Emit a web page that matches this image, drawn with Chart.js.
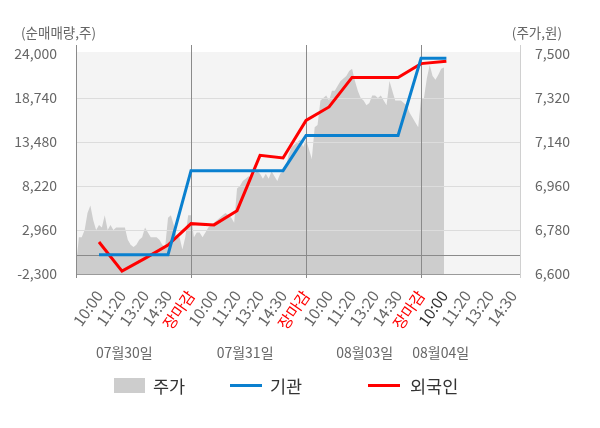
<!DOCTYPE html>
<html><head><meta charset="utf-8">
<script src="https://cdn.jsdelivr.net/npm/chart.js@4.4.1/dist/chart.umd.min.js"></script>
<style>html,body{margin:0;padding:0;background:#fff;}#wrap{width:600px;height:428px;position:relative;}</style>
</head><body><div id="wrap"><canvas id="c" width="600" height="428"></canvas></div>
<script>
const FONT = "'Noto Sans CJK KR','Noto Sans',sans-serif";
const timeLabels = ['10:00','11:20','13:20','14:30','장마감','10:00','11:20','13:20','14:30','장마감','10:00','11:20','13:20','14:30','장마감','10:00','11:20','13:20','14:30'];
const dayLabels = ['07월30일','07월31일','08월03일','08월04일'];
const dayLabelPos = [2.1, 7.35, 12.55, 15.85];
const leftTicks = [-2300, 2960, 8220, 13480, 18740, 24000];
const rightTicks = [6600, 6780, 6960, 7140, 7320, 7500];
const legendNames = ['주가', '기관', '외국인'];

const flowX = [1,2,3,4,5,6,7,8,9,10,11,12,13,14,15,16.1];
const institution = [0,0,0,0,10050,10050,10050,10050,10050,14270,14270,14270,14270,14270,23480,23480];
const foreign = [1530,-1950,-430,1150,3720,3570,5270,11880,11570,16060,17670,21200,21200,21200,22850,23130];

const priceDay1 = [6630,6750,6750,6780,6850,6880,6820,6780,6800,6790,6840,6780,6800,6780,6790,6790,6790,6790,6740,6720,6710,6720,6740,6750,6790,6770,6750,6750,6750,6740,6720,6710,6830,6840,6800,6750,6750,6700,6750,6840];
const priceDay2 = [6840,6750,6770,6770,6750,6770,6790,6800,6810,6820,6830,6840,6850,6840,6830,6810,6950,6960,6980,6990,7000,6990,7010,7020,7010,6990,7010,6990,7020,7000,6980,7010,7020,7040,7090,7120,7130,7140,7150,7120];
const priceDay3 = [7150,7110,7070,7200,7210,7310,7320,7330,7310,7350,7350,7370,7390,7400,7410,7430,7440,7390,7350,7320,7310,7290,7300,7330,7330,7320,7330,7310,7290,7390,7350,7310,7310,7310,7300,7290,7260,7240,7220,7200];
const priceDay4 = [7320,7320,7400,7455,7410,7395,7415,7440,7445];

const SAMPLES_PER_DAY = 40, DAY_SPAN = 5;
const pricePts = [];
[priceDay1, priceDay2, priceDay3, priceDay4].forEach((arr, d) => {
  arr.forEach((v, i) => pricePts.push({x: d * DAY_SPAN + i * DAY_SPAN / SAMPLES_PER_DAY, y: v}));
});
const instPts = flowX.map((x, i) => ({x, y: institution[i]}));
const forPts = flowX.map((x, i) => ({x, y: foreign[i]}));

const BLUE = '#0a80cf', RED = '#ff0000', GRAY = '#cdcdcd';

const decor = {
  id: 'decor',
  beforeDatasetsDraw(chart) {
    const {ctx, chartArea: a} = chart;
    ctx.save();
    ctx.fillStyle = '#f4f4f4';
    ctx.fillRect(a.left, a.top - 2, a.right - a.left, a.bottom - a.top + 2);
    ctx.restore();
  },
  afterDatasetDraw(chart, args) {
    if (args.index !== 2) return;
    const {ctx, chartArea: a, scales} = chart;
    const y = scales.y, x = scales.x;
    ctx.save();
    ctx.lineWidth = 1;
    ctx.strokeStyle = '#dcdcdc';
    leftTicks.forEach(v => {
      if (v === leftTicks[0] || v === leftTicks[leftTicks.length - 1]) return;
      const py = Math.round(y.getPixelForValue(v)) + 0.5;
      ctx.beginPath(); ctx.moveTo(a.left, py); ctx.lineTo(a.right, py); ctx.stroke();
    });
    ctx.strokeStyle = '#8a8a8a';
    let pz = Math.round(y.getPixelForValue(0)) + 0.5;
    ctx.beginPath(); ctx.moveTo(a.left, pz); ctx.lineTo(a.right, pz); ctx.stroke();
    ctx.strokeStyle = '#9a9a9a';
    let pb = Math.round(a.bottom) + 0.5;
    ctx.beginPath(); ctx.moveTo(a.left, pb); ctx.lineTo(a.right, pb); ctx.stroke();
    ctx.strokeStyle = '#8a8a8a';
    [0, 5, 10, 15].forEach(v => {
      const px = Math.round(x.getPixelForValue(v)) + 0.5;
      ctx.beginPath(); ctx.moveTo(px, a.top - 9); ctx.lineTo(px, a.bottom + 4); ctx.stroke();
    });
    ctx.strokeStyle = '#d0d0d0';
    const pr = Math.round(a.right) + 0.5;
    ctx.beginPath(); ctx.moveTo(pr, a.top - 9); ctx.lineTo(pr, a.bottom + 4); ctx.stroke();
    ctx.restore();
  },
  afterDraw(chart) {
    const {ctx, scales} = chart;
    ctx.save();
    ctx.fillStyle = '#666';
    ctx.textBaseline = 'middle';
    ctx.font = '13.5px ' + FONT;
    ctx.textAlign = 'left';
    ctx.fillText('(순매매량,주)', 21, 33);
    ctx.textAlign = 'right';
    ctx.fillText('(주가,원)', 562, 33);
    ctx.font = '14px ' + FONT;
    ctx.textAlign = 'center';
    dayLabels.forEach((t, i) => ctx.fillText(t, scales.x.getPixelForValue(dayLabelPos[i]), 353));
    const ly = 385;
    ctx.font = '17.5px ' + FONT;
    ctx.textAlign = 'left';
    ctx.fillStyle = GRAY;
    ctx.fillRect(114, 378, 31, 15);
    ctx.fillStyle = '#333';
    ctx.fillText(legendNames[0], 153, ly + 1);
    ctx.lineWidth = 3;
    ctx.strokeStyle = BLUE;
    ctx.beginPath(); ctx.moveTo(230, ly + 0.5); ctx.lineTo(262, ly + 0.5); ctx.stroke();
    ctx.fillText(legendNames[1], 270, ly + 1);
    ctx.strokeStyle = RED;
    ctx.beginPath(); ctx.moveTo(368, ly + 0.5); ctx.lineTo(400, ly + 0.5); ctx.stroke();
    ctx.fillText(legendNames[2], 410, ly + 1);
    ctx.restore();
  }
};

new Chart(document.getElementById('c'), {
  type: 'line',
  data: {
    datasets: [
      {label: '외국인', data: forPts, yAxisID: 'y', borderColor: RED, borderWidth: 3, pointRadius: 0, tension: 0, fill: false, order: 1},
      {label: '기관', data: instPts, yAxisID: 'y', borderColor: BLUE, borderWidth: 3, pointRadius: 0, tension: 0, fill: false, order: 0},
      {label: '주가', data: pricePts, yAxisID: 'y2', borderWidth: 0, borderColor: GRAY, backgroundColor: GRAY, pointRadius: 0, tension: 0, fill: 'start', order: 5}
    ]
  },
  options: {
    responsive: false,
    animation: false,
    layout: {padding: {top: 54, left: 0, right: 0, bottom: 0}},
    plugins: {legend: {display: false}, tooltip: {enabled: false}},
    scales: {
      x: {
        type: 'linear', position: 'bottom', min: 0, max: 19.3,
        grid: {display: false}, border: {display: false},
        afterBuildTicks: s => { s.ticks = timeLabels.map((_, i) => ({value: i + 1})); },
        afterFit: s => { s.height = 154; },
        ticks: {
          autoSkip: false, minRotation: 55, maxRotation: 55, padding: 5,
          font: {family: FONT, size: 15.5},
          color: c => { const i = c.index; return (i % 5 === 4) ? RED : (i === 15 ? '#333' : '#666'); },
          callback: (v) => timeLabels[Math.round(v) - 1]
        }
      },
      y: {
        type: 'linear', position: 'left', min: -2300, max: 24000,
        grid: {display: false}, border: {display: false},
        afterBuildTicks: s => { s.ticks = leftTicks.map(v => ({value: v})); },
        afterFit: s => { s.width = 76; },
        ticks: {padding: 11, color: '#666', font: {family: FONT, size: 14}, callback: v => v.toLocaleString('en-US')}
      },
      y2: {
        type: 'linear', position: 'right', min: 6600, max: 7500,
        grid: {display: false}, border: {display: false},
        afterBuildTicks: s => { s.ticks = rightTicks.map(v => ({value: v})); },
        afterFit: s => { s.width = 80; },
        ticks: {padding: 7, color: '#666', font: {family: FONT, size: 14}, callback: v => v.toLocaleString('en-US')}
      }
    }
  },
  plugins: [decor]
});
</script>
</body></html>
